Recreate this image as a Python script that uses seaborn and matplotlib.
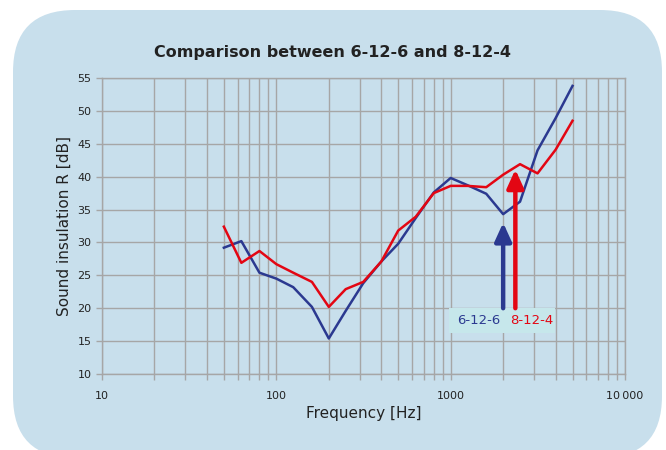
import matplotlib
matplotlib.use("Agg")
import matplotlib.pyplot as plt
from matplotlib.patches import FancyBboxPatch, Rectangle
from matplotlib.ticker import LogLocator, NullFormatter
import seaborn as sns
import pandas as pd

freqs = [50, 63, 80, 100, 125, 160, 200, 250, 315, 400, 500, 630, 800,
         1000, 1250, 1600, 2000, 2500, 3150, 4000, 5000]
r_6_12_6 = [29.2, 30.2, 25.4, 24.5, 23.2, 20.2, 15.4, 19.6, 23.8, 27.1, 29.8,
            33.7, 37.6, 39.8, 38.7, 37.4, 34.3, 36.2, 44.0, 48.9, 53.8]
r_8_12_4 = [32.4, 26.9, 28.7, 26.7, 25.4, 24.0, 20.2, 22.9, 24.0, 27.1, 31.8,
            33.9, 37.5, 38.6, 38.6, 38.4, 40.3, 41.9, 40.5, 44.1, 48.5]
series_names = ["6-12-6", "8-12-4"]
colors = ["#2b3990", "#e30613"]
arrow_freqs = [2000, 2350]
arrow_tips = [33.0, 41.1]

df = pd.concat([
    pd.DataFrame({"f": freqs, "R": r_6_12_6, "s": series_names[0]}),
    pd.DataFrame({"f": freqs, "R": r_8_12_4, "s": series_names[1]}),
])

bg = "#c8dfec"
grid_c = "#a6a6a6"

fig = plt.figure(figsize=(6.66, 4.5), dpi=100)
fig.patch.set_facecolor("white")
box = FancyBboxPatch((13, -8), 662 - 13, 440 + 8,
                     boxstyle="round,pad=0,rounding_size=62",
                     transform=None, facecolor=bg, edgecolor="none", zorder=-10)
fig.patches.append(box)

ax = fig.add_axes([102 / 666, 1 - 374 / 450, (625 - 102) / 666, (374 - 78) / 450])
ax.set_facecolor(bg)

sns.lineplot(data=df, x="f", y="R", hue="s", palette=colors, ax=ax,
             linewidth=1.8, legend=False, zorder=3)

ax.set_xscale("log")
ax.set_xlim(10, 10000)
ax.set_ylim(10, 55)
ax.set_xticks([10, 100, 1000, 10000])
ax.set_xticklabels(["10", "100", "1000", "10\u2009000"])
ax.xaxis.set_minor_locator(LogLocator(base=10, subs=range(2, 10)))
ax.xaxis.set_minor_formatter(NullFormatter())
ax.set_yticks(range(10, 56, 5))
ax.grid(True, which="both", axis="x", color=grid_c, linewidth=1.0, zorder=1)
ax.grid(True, which="major", axis="y", color=grid_c, linewidth=1.0, zorder=1)
ax.set_axisbelow(True)
for sp in ax.spines.values():
    sp.set_color(grid_c)
    sp.set_linewidth(1.0)
ax.tick_params(axis="both", which="both", color=grid_c, length=4, width=1.0,
               labelsize=8, labelcolor="#222222")
ax.tick_params(axis="x", which="major", pad=8)

ax.set_xlabel("Frequency [Hz]", fontsize=11, color="#222222", labelpad=4)
ax.set_ylabel("Sound insulation R [dB]", fontsize=11, color="#222222")
fig.text(333 / 666, 1 - 52 / 450, "Comparison between 6-12-6 and 8-12-4",
         fontsize=11.5, fontweight="bold", color="#222222",
         ha="center", va="center")

# label box
ax.add_patch(Rectangle((975, 16.2), 3954 - 975, 3.8, facecolor="#c6e7eb",
                       edgecolor="none", zorder=4))
for fx, tip, c in zip(arrow_freqs, arrow_tips, colors):
    ax.annotate("", xy=(fx, tip), xytext=(fx, 20.0),
                arrowprops=dict(arrowstyle="-|>,head_length=1.1,head_width=0.5",
                                color=c, lw=3.2, shrinkA=0, shrinkB=0),
                zorder=5)
ax.text(1448, 18.1, series_names[0], color=colors[0], fontsize=9.5,
        ha="center", va="center", zorder=6)
ax.text(2918, 18.1, series_names[1], color=colors[1], fontsize=9.5,
        ha="center", va="center", zorder=6)

fig.savefig("out.png", dpi=100, facecolor=fig.get_facecolor())
